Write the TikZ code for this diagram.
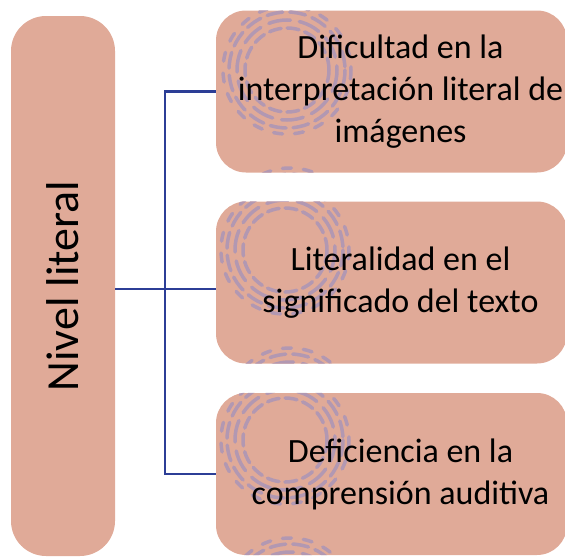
\documentclass[tikz,border=0pt]{standalone}
\usepackage{fontspec}
\setmainfont{Carlito}
\usetikzlibrary{positioning}
\definecolor{salmon}{RGB}{224,170,152}
\definecolor{navy}{RGB}{44,62,150}
\definecolor{swirlcol}{RGB}{178,152,178}

% dashed rings in the background of a box
\newcommand{\swirls}[2]{%
  \foreach \r/\d/\g in {58/16/7, 50/22/9, 42/12/6, 64/9/12}
    \draw[swirlcol, line width=3.5pt, line cap=round, dash pattern=on \d pt off \g pt] (#1,#2) circle (\r);
}

\begin{document}
\begin{tikzpicture}[x=1pt, y=-1pt,
        leftbox/.style={fill=salmon, rounded corners=35pt, minimum width=540pt, minimum height=104pt, inner sep=0pt, rotate=90, font=\fontsize{46}{50}\selectfont},
        itembox/.style={fill=salmon, rounded corners=30pt, minimum width=351pt, minimum height=162pt, inner sep=0pt},
        itemtext/.style={align=center, inner sep=0pt, font=\fontsize{34}{42}\selectfont},
        link/.style={draw=navy, line width=2.2pt}
        ]
        \useasboundingbox (0,0) rectangle (565,557);
        \clip (0,0) rectangle (565,557);

        % Nodes
        \node[leftbox] (nivel) at (63,286) {Nivel literal};
        \node[itembox] (dificultad) at (391.5,91.5) {};
        \node[itembox] (literalidad) at (391.5,282.5) {};
        \node[itembox] (deficiencia) at (391.5,474) {};

        % Background rings
        \begin{scope}
            \clip[rounded corners=30pt] (dificultad.south west) rectangle (dificultad.north east);
            \swirls{287}{70}
            \swirls{290}{232}
        \end{scope}
        \begin{scope}
            \clip[rounded corners=30pt] (literalidad.south west) rectangle (literalidad.north east);
            \swirls{285}{250}
            \swirls{290}{412}
        \end{scope}
        \begin{scope}
            \clip[rounded corners=30pt] (deficiencia.south west) rectangle (deficiencia.north east);
            \swirls{285}{440}
            \swirls{290}{602}
        \end{scope}

        % Texts
        \node[itemtext] (dificultad text) at ([xshift=9pt]dificultad.center) {Dificultad en la\\interpretación literal de\\imágenes};
        \node[itemtext] (literalidad text) at ([xshift=9pt]literalidad.center) {Literalidad en el\\significado del texto};
        \node[itemtext] (deficiencia text) at ([xshift=9pt]deficiencia.center) {Deficiencia en la\\comprensión auditiva};

        % Links
        \coordinate (branch) at (165,289);
        \draw[link] (dificultad.west) -| (branch) |- (deficiencia.west);
        \draw[link] (nivel.south |- branch) -- (literalidad.west |- branch);
    \end{tikzpicture}
\end{document}
